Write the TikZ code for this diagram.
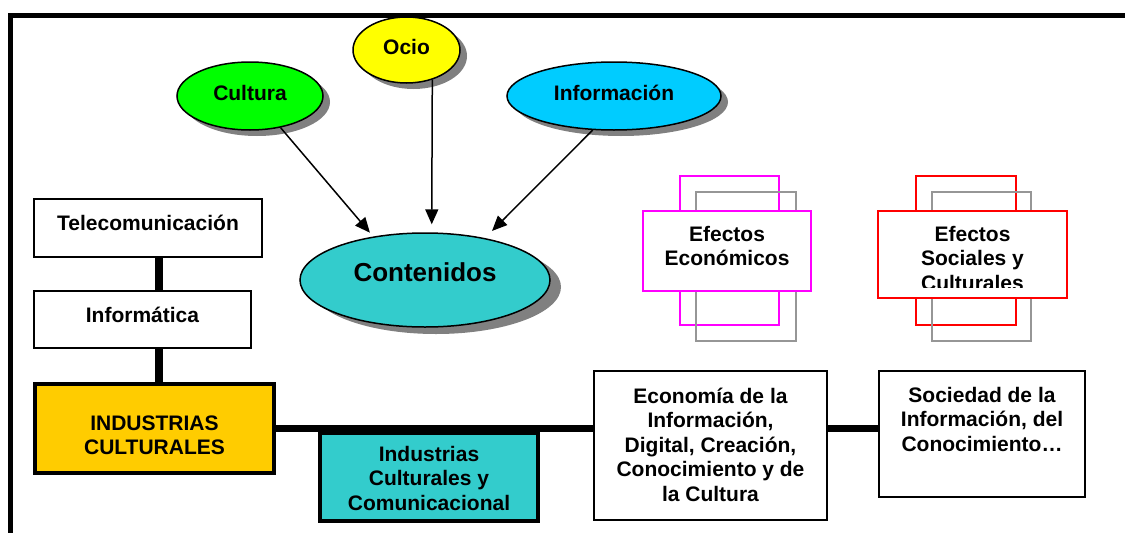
\documentclass[tikz,border=0pt]{standalone}
\usepackage{fontspec}
\setmainfont{Liberation Sans}
\usetikzlibrary{shapes.geometric,arrows.meta,shadows}
\definecolor{cgreen}{RGB}{0,255,0}
\definecolor{cyellow}{RGB}{255,255,0}
\definecolor{cblue}{RGB}{0,204,255}
\definecolor{cteal}{RGB}{51,204,204}
\definecolor{cgold}{RGB}{255,204,0}
\definecolor{cmag}{RGB}{255,0,255}
\definecolor{cred}{RGB}{255,0,0}
\definecolor{ggray}{RGB}{150,150,150}
\definecolor{shadowgray}{RGB}{128,128,128}
\newcommand{\boxfont}{\fontsize{21}{24.5}\selectfont\bfseries}
\newcommand{\tbx}[4]{\parbox[c][#1][t]{#2}{\boxfont\centering\rule{0pt}{#3}#4\par}}
\begin{document}
\begin{tikzpicture}[x=1pt,y=-1pt,
  ell/.style={ellipse, draw=black, line width=1.5pt, inner sep=0pt,
    font=\fontsize{21}{24.5}\selectfont\bfseries, text height=15pt, text depth=7pt},
  shad/.style={general shadow={fill=shadowgray, shadow xshift=7pt, shadow yshift=-6pt}},
  bigshad/.style={general shadow={fill=shadowgray, shadow xshift=11pt, shadow yshift=-7pt}},
  tbox/.style={rectangle, draw=black, line width=2pt, fill=white, inner sep=0pt},
  thickbox/.style={tbox, line width=4pt},
  conn/.style={line width=8pt},
  arr/.style={line width=1.5pt, -{Triangle[length=15pt,width=13pt]}},
  backrect/.style={line width=1.5pt}
]
\useasboundingbox (0,0) rectangle (1125,533);
\clip (0,0) rectangle (1125,533);
% frame
\draw[line width=5pt] (10.5,560) -- (10.5,15.5) -- (1150,15.5);

% ellipses
\node[ell, shad, fill=cyellow, minimum width=107pt, minimum height=66pt] (ocio) at (406.5,50) {Ocio};
\node[ell, shad, fill=cgreen, minimum width=146pt, minimum height=68pt] (cult) at (250,96) {Cultura};
\node[ell, shad, fill=cblue, minimum width=214pt, minimum height=68pt] (infoe) at (614,96) {Información};
\node[ell, bigshad, fill=cteal, minimum width=250pt, minimum height=94pt,
  font=\fontsize{26}{30}\selectfont\bfseries, text height=19pt, text depth=17pt] (cont) at (425,280) {Contenidos};

% arrows
\draw[arr, shorten >=5pt] (cult.-46) -- (cont.140);
\draw[arr, shorten >=8pt] (ocio.-49) -- (cont.82);
\draw[arr, shorten >=10pt] (infoe.-122) -- (cont.35);

% effects boxes
\draw[backrect, cmag] (680,176) rectangle (779,325);
\draw[backrect, ggray] (696,192) rectangle (796,341);
\node[tbox, draw=cmag, line width=1.5pt] (efe) at (727,251) {\tbx{80pt}{168pt}{30pt}{Efectos\\Económicos}};

\draw[backrect, cred] (916,176) rectangle (1016,325);
\draw[backrect, ggray] (932,192) rectangle (1031,341);
\node[tbox, draw=cred, line width=1.5pt] (efs) at (972.5,254.5) {\tbx{87pt}{189pt}{30pt}{Efectos\\Sociales y\\Culturales}};
\fill[white] (880,288.3) rectangle (1065.5,297);

% left column and bottom row
\node[tbox] (tele) at (148,228) {\tbx{58pt}{228pt}{31pt}{Telecomunicación}};
\node[tbox] (infor) at (142.5,319.5) {\tbx{57pt}{217pt}{31.5pt}{Informática}};
\node[thickbox, fill=cgold] (ind) at (154.5,428.5) {\tbx{89pt}{239pt}{46pt}{INDUSTRIAS\\CULTURALES}};
\node[thickbox, fill=cteal] (icc) at (429,477) {\tbx{88pt}{218pt}{28pt}{Industrias\\Culturales y\\Comunicacional}};
\node[tbox] (econ) at (710.5,445.5) {\tbx{149pt}{233pt}{32pt}{Economía de la\\Información,\\Digital, Creación,\\Conocimiento y de\\la Cultura}};
\node[tbox] (socinf) at (982,434) {\tbx{126pt}{206pt}{31pt}{Sociedad de la\\Información, del\\Conocimiento…}};

% thick connectors
\draw[conn] ([xshift=11pt]tele.south) -- ([xshift=11pt]tele.south |- infor.north);
\draw[conn] ([xshift=4.5pt]ind.north) -- ([xshift=4.5pt]ind.north |- infor.south);
\draw[conn, line width=7.5pt] (ind.east) -- (ind.east -| econ.west);
\draw[conn, line width=7.5pt] (ind.east -| econ.east) -- (ind.east -| socinf.west);
\end{tikzpicture}
\end{document}
